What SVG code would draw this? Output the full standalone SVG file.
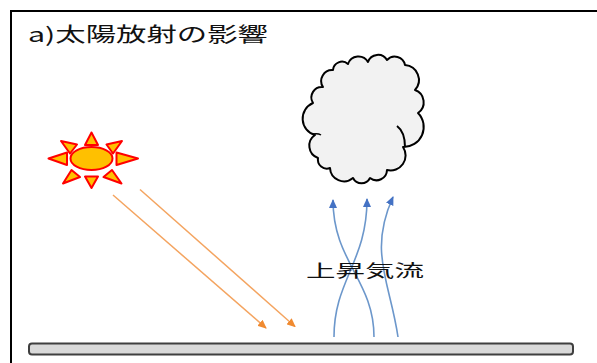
<svg xmlns="http://www.w3.org/2000/svg" width="597" height="363" viewBox="0 0 597 363">
  <style>
    .title { font-family: "Noto Sans CJK JP", "Noto Sans", sans-serif; font-size: 20px; fill: #111; }
    .label { font-family: "Noto Sans CJK JP", "Noto Sans", sans-serif; font-size: 17px; fill: #111; }
    .ray { fill: #FFC000; stroke: #FF0000; stroke-width: 2; stroke-linejoin: round; }
    .sunray { fill: none; stroke: #F4A460; stroke-width: 1.5; }
    .updraft { fill: none; stroke: #6C97CB; stroke-width: 1.6; }
  </style>
  <defs>
    <marker id="headOrange" markerUnits="userSpaceOnUse" markerWidth="9" markerHeight="8" refX="8" refY="4" orient="auto">
      <path d="M0,0 L9,4 L0,8 z" fill="#F08A30"/>
    </marker>
    <marker id="headBlue" markerUnits="userSpaceOnUse" markerWidth="9" markerHeight="8" refX="8" refY="4" orient="auto">
      <path d="M0,0 L9,4 L0,8 z" fill="#4472C4"/>
    </marker>
  </defs>

  <rect width="597" height="363" fill="#FFFFFF"/>
  <!-- panel frame (right and bottom edges run off the canvas) -->
  <rect x="11" y="11" width="600" height="370" fill="none" stroke="#000" stroke-width="2"/>

  <g id="title">
    <text class="title" x="28" y="42" textLength="240" lengthAdjust="spacingAndGlyphs">a)太陽放射の影響</text>
  </g>

  <g id="sun">
    <polygon class="ray" points="91.5,132.5 85,145 98,145"/>
    <polygon class="ray" points="91.5,188 85,176.5 98,176.5"/>
    <polygon class="ray" points="48.5,158.5 67,152.5 67,165"/>
    <polygon class="ray" points="138,158.5 116.5,152.5 116.5,165"/>
    <polygon class="ray" points="61,141 77,144.5 70,153.5"/>
    <polygon class="ray" points="122,141 106.5,144.5 113,153.5"/>
    <polygon class="ray" points="63,183.5 71.5,170 80,177"/>
    <polygon class="ray" points="121.5,183.5 112,170 103.5,177"/>
    <ellipse cx="91.5" cy="158.5" rx="21" ry="11.5" fill="#FFC000" stroke="#FF0000" stroke-width="2"/>
  </g>

  <g id="cloud">
    <path d="M323,87 A11,11 0 0 1 333,70 A9,9 0 0 1 348,64 A11,11 0 0 1 368,62 A10.5,10.5 0 0 1 387,60
             A10.5,10.5 0 0 1 405,65 A15,15 0 0 1 415,90 A13,13 0 0 1 418,113 A20,20 0 0 1 403,147
             A15,15 0 0 1 387,170 A10.5,10.5 0 0 1 370,178 A9.5,9.5 0 0 1 353,178 A14,14 0 0 1 330,168
             A9,9 0 0 1 318,158 A13,13 0 0 1 315,135 A17,17 0 0 1 313,103 A10.5,10.5 0 0 1 323,87 Z"
          fill="#F2F2F2" stroke="#000" stroke-width="2" stroke-linejoin="round"/>
    <path d="M397,126 Q405,132 405,147" fill="none" stroke="#000" stroke-width="2"/>
    <path d="M313,134 Q318,133 321,135" fill="none" stroke="#000" stroke-width="1.5"/>
  </g>

  <g id="ground">
    <rect x="29" y="343.5" width="544" height="11" rx="3" ry="3" fill="#D9D9D9" stroke="#3F3F3F" stroke-width="2"/>
  </g>

  <g id="connectors">
    <line class="sunray" x1="113" y1="195" x2="266" y2="328" marker-end="url(#headOrange)"/>
    <line class="sunray" x1="140" y1="189.5" x2="295" y2="326.5" marker-end="url(#headOrange)"/>
    <path class="updraft" d="M374,337 C374,280 333,262 333,200" marker-end="url(#headBlue)"/>
    <path class="updraft" d="M334,337 C334,280 367,262 367,199" marker-end="url(#headBlue)"/>
    <path class="updraft" d="M398,337 C390,282 368,252 393,197" marker-end="url(#headBlue)"/>
  </g>

  <g id="updraft-label">
    <text class="label" x="306" y="277" textLength="118" lengthAdjust="spacingAndGlyphs">上昇気流</text>
  </g>
</svg>
